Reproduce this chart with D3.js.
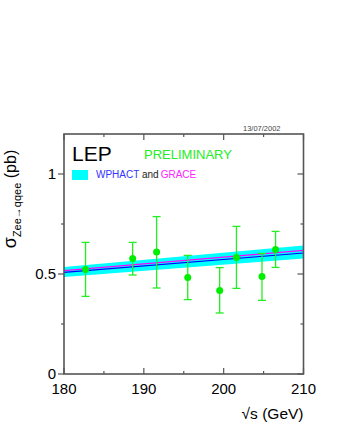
<!DOCTYPE html>
<html>
<head>
<meta charset="utf-8">
<script src="https://cdn.jsdelivr.net/npm/d3@7"></script>
<style>
body { margin: 0; background: #fff; }
text { font-family: "Liberation Sans", Arial, sans-serif; }
</style>
</head>
<body>
<script>
// measurements (sqrt(s) in GeV, sigma in pb)
var energies = [182.7, 188.6, 191.6, 195.5, 199.5, 201.6, 204.8, 206.5];
var sigma    = [0.523, 0.577, 0.610, 0.483, 0.418, 0.583, 0.487, 0.623];
var errUp    = [0.135, 0.081, 0.177, 0.110, 0.114, 0.155, 0.116, 0.090];
var errDown  = [0.135, 0.082, 0.180, 0.111, 0.113, 0.155, 0.119, 0.090];

// theory predictions
var thEnergy = [180, 210];
var bandLow  = [0.485, 0.578];
var bandHigh = [0.535, 0.643];
var wphact   = [0.508, 0.605];
var grace    = [0.517, 0.618];

var xTicks = [180, 190, 200, 210];
var xMinor = [185, 195, 205];
var yTicks = [0, 0.5, 1];
var yMinor = [0.25, 0.75];

var width = 345, height = 446;
var margin = {left: 64, right: 41.5, top: 134, bottom: 72};
var w = width - margin.left - margin.right;
var h = height - margin.top - margin.bottom;

var svg = d3.select("body").append("svg")
    .attr("width", width)
    .attr("height", height);

var x = d3.scaleLinear().domain([180, 210]).range([0, w]);
var y = d3.scaleLinear().domain([0, 1.2]).range([h, 0]);

var g = svg.append("g")
    .attr("transform", "translate(" + margin.left + "," + margin.top + ")");

var th = thEnergy.map(function(e, i) {
  return {e: e, lo: bandLow[i], hi: bandHigh[i], wp: wphact[i], gr: grace[i]};
});

g.append("path")
  .datum(th)
  .attr("fill", "#00ffff")
  .attr("d", d3.area().x(function(d) { return x(d.e); })
    .y0(function(d) { return y(d.lo); })
    .y1(function(d) { return y(d.hi); }));

g.append("path")
  .datum(th)
  .attr("fill", "none")
  .attr("stroke", "#ff00ff")
  .attr("stroke-width", 1.2)
  .attr("d", d3.line().x(function(d) { return x(d.e); }).y(function(d) { return y(d.gr); }));

g.append("path")
  .datum(th)
  .attr("fill", "none")
  .attr("stroke", "#0000ff")
  .attr("stroke-width", 1.2)
  .attr("d", d3.line().x(function(d) { return x(d.e); }).y(function(d) { return y(d.wp); }));

// data points with error bars
var pts = energies.map(function(e, i) {
  return {e: e, s: sigma[i], up: errUp[i], dn: errDown[i]};
});
var green = "#22ee22";
var pg = g.selectAll(".pt").data(pts).enter().append("g").attr("class", "pt");
pg.append("line")
  .attr("x1", function(d) { return x(d.e); })
  .attr("x2", function(d) { return x(d.e); })
  .attr("y1", function(d) { return y(d.s + d.up); })
  .attr("y2", function(d) { return y(d.s - d.dn); })
  .attr("stroke", green).attr("stroke-width", 1.3);
[function(d) { return y(d.s + d.up); }, function(d) { return y(d.s - d.dn); }].forEach(function(fy) {
  pg.append("line")
    .attr("x1", function(d) { return x(d.e) - 4; })
    .attr("x2", function(d) { return x(d.e) + 4; })
    .attr("y1", fy).attr("y2", fy)
    .attr("stroke", green).attr("stroke-width", 1.3);
});
pg.append("circle")
  .attr("cx", function(d) { return x(d.e); })
  .attr("cy", function(d) { return y(d.s); })
  .attr("r", 3.5)
  .attr("fill", "#00ee00");

// frame and ticks
var axisColor = "#555";
g.append("rect")
  .attr("width", w).attr("height", h)
  .attr("fill", "none").attr("stroke", axisColor).attr("stroke-width", 1.6);

function tickLines(vals, len, horiz) {
  vals.forEach(function(v) {
    if (horiz) {
      g.append("line").attr("x1", x(v)).attr("x2", x(v)).attr("y1", h).attr("y2", h - len)
        .attr("stroke", axisColor).attr("stroke-width", 1.2);
      g.append("line").attr("x1", x(v)).attr("x2", x(v)).attr("y1", 0).attr("y2", len)
        .attr("stroke", axisColor).attr("stroke-width", 1.2);
    } else {
      g.append("line").attr("x1", -len).attr("x2", 0).attr("y1", y(v)).attr("y2", y(v))
        .attr("stroke", axisColor).attr("stroke-width", 1.2);
      g.append("line").attr("x1", w - len).attr("x2", w).attr("y1", y(v)).attr("y2", y(v))
        .attr("stroke", axisColor).attr("stroke-width", 1.2);
    }
  });
}
tickLines(xTicks, 6, true);
tickLines(xMinor, 3, true);
tickLines(yTicks, 6, false);
tickLines(yMinor, 3, false);

g.selectAll(".xl").data(xTicks).enter().append("text")
  .attr("x", function(d) { return x(d); })
  .attr("y", h + 20)
  .attr("text-anchor", "middle")
  .attr("font-size", 15)
  .text(function(d) { return d; });

g.selectAll(".yl").data(yTicks).enter().append("text")
  .attr("x", -8)
  .attr("y", function(d) { return y(d) + 5; })
  .attr("text-anchor", "end")
  .attr("font-size", 15)
  .text(function(d) { return d; });

// axis titles
svg.append("text")
  .attr("x", margin.left + w)
  .attr("y", 419)
  .attr("text-anchor", "end")
  .attr("font-size", 15.5)
  .text("\u221As (GeV)");

var yt = svg.append("text")
  .attr("transform", "translate(16,199) rotate(-90)")
  .attr("text-anchor", "middle")
  .attr("font-size", 16);
yt.append("tspan").attr("font-size", 18).text("\u03C3");
yt.append("tspan").attr("font-size", 11).attr("dy", 5).text("Zee\u2192qqee");
yt.append("tspan").attr("dy", -5).text(" (pb)");

// labels inside plot
svg.append("text").attr("x", 72).attr("y", 161).attr("font-size", 21).text("LEP");
svg.append("text").attr("x", 144).attr("y", 159).attr("font-size", 13)
  .attr("fill", "#22ee22").text("PRELIMINARY");
svg.append("rect").attr("x", 72).attr("y", 170).attr("width", 16).attr("height", 10)
  .attr("fill", "#00ffff");
var lg = svg.append("text").attr("x", 96).attr("y", 178).attr("font-size", 10);
lg.append("tspan").attr("fill", "#3333ff").text("WPHACT ");
lg.append("tspan").attr("fill", "#222").text("and");
lg.append("tspan").attr("fill", "#ff22ff").attr("dx", 2).text("GRACE");

svg.append("text").attr("x", 243).attr("y", 131).attr("font-size", 7.5)
  .attr("fill", "#444").text("13/07/2002");
</script>
</body>
</html>
